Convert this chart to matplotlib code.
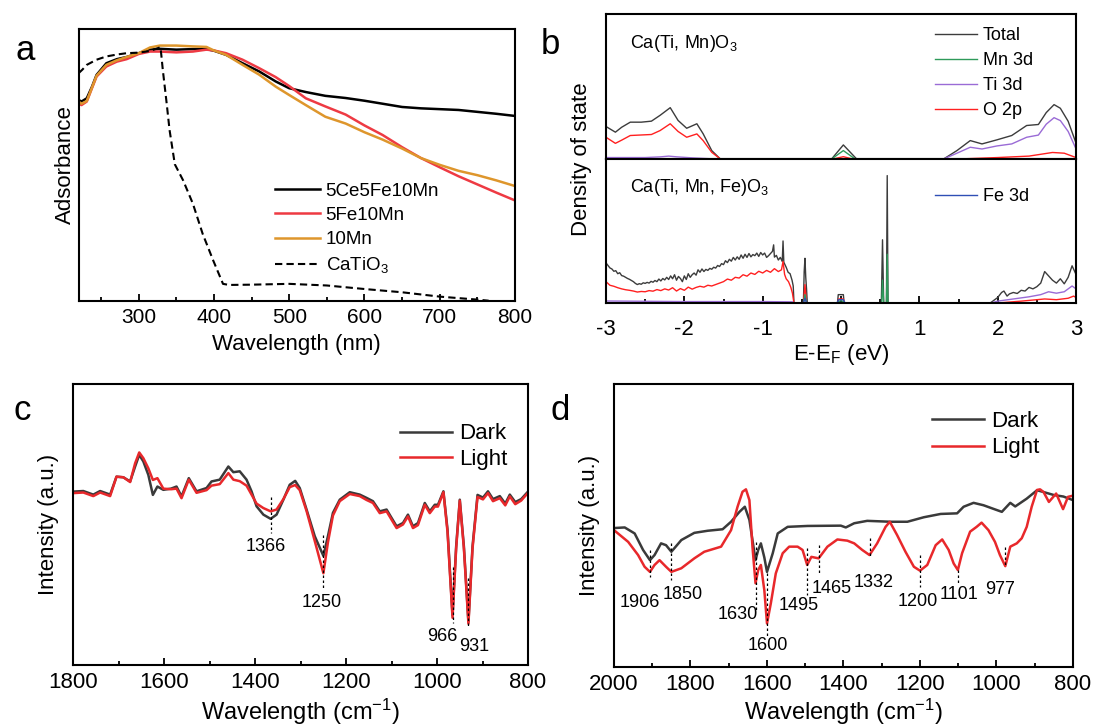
import matplotlib
matplotlib.use('Agg')
import matplotlib.pyplot as plt
from matplotlib.ticker import MultipleLocator

plt.rcParams['font.family'] = ['Liberation Sans', 'DejaVu Sans']
plt.rcParams['mathtext.fontset'] = 'custom'
plt.rcParams['mathtext.rm'] = 'Liberation Sans'
plt.rcParams['mathtext.it'] = 'Liberation Sans:italic'
plt.rcParams['mathtext.default'] = 'regular'
plt.rcParams['axes.unicode_minus'] = False

# ---------------- Panel a data (UV-vis absorbance, a.u.) ----------------
wl_a = [220, 224, 231, 238, 244, 257, 271, 284, 300, 315, 328, 350, 372, 390, 400,
        416, 438, 460, 482, 500, 522, 548, 575, 600, 624, 650, 675, 700, 725, 750, 775, 800]
abs_5ce5fe10mn = [0.739, 0.733, 0.745, 0.788, 0.831, 0.874, 0.889, 0.897, 0.911, 0.924, 0.927,
                  0.924, 0.926, 0.926, 0.920, 0.905, 0.874, 0.844, 0.807, 0.782, 0.768, 0.754,
                  0.746, 0.736, 0.725, 0.713, 0.708, 0.705, 0.702, 0.695, 0.688, 0.680]
abs_5fe10mn = [0.727, 0.720, 0.733, 0.783, 0.825, 0.862, 0.880, 0.889, 0.908, 0.917, 0.917,
               0.914, 0.917, 0.924, 0.921, 0.911, 0.887, 0.856, 0.823, 0.790, 0.745, 0.715,
               0.685, 0.645, 0.610, 0.565, 0.525, 0.491, 0.458, 0.428, 0.398, 0.369]
abs_10mn = [0.733, 0.725, 0.735, 0.785, 0.828, 0.868, 0.885, 0.897, 0.911, 0.932, 0.939,
            0.939, 0.936, 0.934, 0.921, 0.905, 0.868, 0.832, 0.788, 0.757, 0.720, 0.677,
            0.652, 0.620, 0.593, 0.560, 0.525, 0.500, 0.478, 0.462, 0.443, 0.422]
wl_cto = [220, 225, 231, 244, 257, 271, 284, 300, 315, 325, 329, 332, 337, 341, 348, 359,
          372, 385, 399, 412, 420, 450, 500, 550, 600, 650, 700, 750, 765]
abs_catio3 = [0.837, 0.850, 0.868, 0.887, 0.899, 0.906, 0.911, 0.913, 0.919, 0.929, 0.933,
              0.850, 0.730, 0.628, 0.502, 0.443, 0.357, 0.246, 0.148, 0.062, 0.058, 0.059,
              0.062, 0.056, 0.043, 0.031, 0.015, 0.004, 0.0]
labels_a = ['5Ce5Fe10Mn', '5Fe10Mn', '10Mn', 'CaTiO$_3$']

# ---------------- Panel b data (DOS, a.u.) ----------------
E_up_tot = [-3.0, -2.88, -2.8, -2.69, -2.55, -2.42, -2.31, -2.18, -2.08, -1.97, -1.84, -1.76,
            -1.65, -1.54, -0.12, 0.03, 0.20, 1.31, 1.48, 1.65, 1.80, 1.99, 2.18, 2.37, 2.52,
            2.62, 2.72, 2.80, 2.90, 3.0]
dos_up_tot = [0.224, 0.185, 0.219, 0.254, 0.254, 0.261, 0.301, 0.354, 0.266, 0.212, 0.243,
              0.174, 0.058, 0.0, 0.0, 0.097, 0.0, 0.0, 0.058, 0.127, 0.104, 0.132, 0.162,
              0.231, 0.238, 0.32, 0.375, 0.35, 0.26, 0.11]
E_up_mn = [-3.0, -0.12, 0.03, 0.18, 3.0]
dos_up_mn = [0.0, 0.0, 0.058, 0.0, 0.0]
E_up_ti = [-3.0, -2.5, -2.3, -2.2, -2.1, -1.9, -1.6, 1.31, 1.48, 1.65, 1.80, 1.99, 2.18,
           2.37, 2.52, 2.62, 2.72, 2.80, 2.90, 3.0]
dos_up_ti = [0.01, 0.01, 0.015, 0.02, 0.015, 0.008, 0.0, 0.0, 0.04, 0.081, 0.069, 0.09,
             0.104, 0.15, 0.165, 0.24, 0.285, 0.265, 0.19, 0.07]
E_up_o = [-3.0, -2.88, -2.8, -2.69, -2.42, -2.31, -2.18, -2.08, -1.97, -1.84, -1.76, -1.65,
          -1.54, -0.1, 0.03, 0.15, 1.5, 2.0, 2.4, 2.7, 2.85, 3.0]
dos_up_o = [0.150, 0.108, 0.13, 0.162, 0.169, 0.196, 0.243, 0.19, 0.150, 0.173, 0.127, 0.046,
            0.0, 0.0, 0.016, 0.0, 0.0, 0.01, 0.02, 0.045, 0.04, 0.01]

E_lo_tot = [-3.000, -2.975, -2.950, -2.925, -2.900, -2.875, -2.850, -2.825, -2.800, -2.775,
            -2.750, -2.725, -2.700, -2.675, -2.650, -2.625, -2.600, -2.575, -2.550, -2.525,
            -2.500, -2.475, -2.450, -2.425, -2.400, -2.375, -2.350, -2.325, -2.300, -2.275,
            -2.250, -2.225, -2.200, -2.175, -2.150, -2.125, -2.100, -2.075, -2.050, -2.025,
            -2.000, -1.975, -1.950, -1.925, -1.900, -1.875, -1.850, -1.825, -1.800, -1.775,
            -1.750, -1.725, -1.700, -1.675, -1.650, -1.625, -1.600, -1.575, -1.550, -1.525,
            -1.500, -1.475, -1.450, -1.425, -1.400, -1.375, -1.350, -1.325, -1.300, -1.275,
            -1.250, -1.225, -1.200, -1.175, -1.150, -1.125, -1.100, -1.075, -1.050, -1.025,
            -1.000, -0.975, -0.950, -0.925, -0.900, -0.875, -0.860, -0.850, -0.825, -0.800,
            -0.775, -0.750, -0.740, -0.730, -0.700, -0.675, -0.650, -0.625, -0.610, -0.600,
            -0.480, -0.470, -0.460, -0.450, -0.440, -0.430,
            -0.045, -0.035, 0.030, 0.040,
            0.515, 0.530, 0.545, 0.580, 0.590, 0.600,
            1.900, 1.950, 2.000, 2.050, 2.080, 2.120, 2.150, 2.200, 2.250, 2.300, 2.350, 2.400,
            2.450, 2.500, 2.550, 2.600, 2.650, 2.700, 2.750, 2.800, 2.850, 2.900, 2.950, 3.000]
dos_lo_tot = [0.280, 0.262, 0.245, 0.238, 0.222, 0.226, 0.205, 0.212, 0.192, 0.188,
              0.180, 0.172, 0.166, 0.158, 0.150, 0.138, 0.130, 0.136, 0.132, 0.142,
              0.138, 0.145, 0.140, 0.152, 0.146, 0.158, 0.150, 0.168, 0.155, 0.172,
              0.162, 0.180, 0.165, 0.190, 0.170, 0.198, 0.160, 0.186, 0.172, 0.150,
              0.190, 0.165, 0.205, 0.180, 0.198, 0.210, 0.195, 0.232, 0.215, 0.238,
              0.220, 0.235, 0.228, 0.242, 0.236, 0.250, 0.244, 0.262, 0.255, 0.275,
              0.268, 0.295, 0.282, 0.305, 0.292, 0.318, 0.300, 0.322, 0.305, 0.335,
              0.312, 0.340, 0.318, 0.345, 0.322, 0.338, 0.330, 0.348, 0.325, 0.352,
              0.335, 0.348, 0.318, 0.330, 0.345, 0.360, 0.405, 0.320, 0.332, 0.300,
              0.318, 0.290, 0.432, 0.285, 0.250, 0.215, 0.205, 0.160, 0.120, 0.000,
              0.0, 0.22, 0.312, 0.18, 0.10, 0.0,
              0.0, 0.06, 0.06, 0.0,
              0.0, 0.44, 0.0, 0.0, 0.885, 0.0,
              0.0, 0.02, 0.04, 0.075, 0.085, 0.05, 0.065, 0.075, 0.068, 0.09, 0.085, 0.11,
              0.10, 0.115, 0.14, 0.22, 0.19, 0.16, 0.14, 0.17, 0.135, 0.18, 0.26, 0.20]
E_lo_o = [-3.00, -2.95, -2.90, -2.85, -2.80, -2.75, -2.70, -2.65, -2.60, -2.55, -2.50, -2.45,
          -2.40, -2.35, -2.30, -2.25, -2.20, -2.15, -2.10, -2.05, -2.00, -1.95, -1.90, -1.85,
          -1.80, -1.75, -1.70, -1.65, -1.60, -1.55, -1.50, -1.45, -1.40, -1.35, -1.30, -1.25,
          -1.20, -1.15, -1.10, -1.05, -1.00, -0.95, -0.90, -0.85, -0.80,
          -0.76, -0.74, -0.72, -0.70, -0.67, -0.64, -0.62, -0.60,
          -0.48, -0.46, -0.44, -0.04, -0.03, 0.03, 0.04,
          1.95, 2.3, 2.6, 2.75, 2.9, 2.97, 3.0]
dos_lo_o = [0.150, 0.125, 0.118, 0.108, 0.100, 0.094, 0.090, 0.085, 0.078, 0.082, 0.080, 0.088,
            0.084, 0.095, 0.088, 0.100, 0.092, 0.108, 0.085, 0.102, 0.090, 0.112, 0.098, 0.110,
            0.118, 0.112, 0.125, 0.120, 0.130, 0.140, 0.150, 0.168, 0.160, 0.180, 0.175, 0.198,
            0.188, 0.210, 0.200, 0.222, 0.210, 0.228, 0.215, 0.240, 0.220,
            0.232, 0.290, 0.200, 0.170, 0.150, 0.110, 0.070, 0.0,
            0.0, 0.13, 0.0, 0.0, 0.03, 0.03, 0.0,
            0.0, 0.015, 0.03, 0.025, 0.035, 0.05, 0.04]
E_lo_ti = [-3.0, -2.0, -1.0, -0.62, -0.60, 1.9, 2.0, 2.2, 2.4, 2.55, 2.65, 2.75, 2.85, 2.95, 3.0]
dos_lo_ti = [0.016, 0.012, 0.012, 0.01, 0.0, 0.0, 0.015, 0.03, 0.045, 0.06, 0.08, 0.07, 0.08,
             0.12, 0.10]
E_lo_mn = [-3.0, -0.48, -0.46, -0.44, -0.05, 0.0, 0.05, 0.52, 0.53, 0.545, 0.58, 0.59, 0.60, 3.0]
dos_lo_mn = [0.004, 0.004, 0.06, 0.004, 0.004, 0.02, 0.004, 0.004, 0.16, 0.004, 0.004, 0.34,
             0.004, 0.004]
E_lo_fe = [-3.0, -0.48, -0.46, -0.44, -0.05, -0.03, 0.03, 0.05, 3.0]
dos_lo_fe = [0.004, 0.004, 0.035, 0.004, 0.004, 0.025, 0.025, 0.004, 0.004]

# ---------------- Panel c data (IR, a.u.) ----------------
wn_c = [1800, 1778, 1756, 1741, 1719, 1705, 1690, 1675, 1664, 1655, 1646, 1635, 1625, 1615,
        1602, 1585, 1573, 1562, 1546, 1529, 1507, 1496, 1478, 1459, 1448, 1434, 1419, 1408,
        1397, 1382, 1366, 1353, 1338, 1324, 1312, 1302, 1287, 1269, 1250, 1240, 1229, 1214,
        1192, 1170, 1155, 1141, 1126, 1111, 1089, 1075, 1064, 1053, 1042, 1027, 1016, 1005,
        998, 986, 977, 966, 958, 950, 941, 931, 922, 911, 899, 888, 877, 862, 850, 840, 828,
        815, 800]
dark_c = [0.640, 0.642, 0.630, 0.642, 0.630, 0.690, 0.688, 0.674, 0.724, 0.763, 0.741, 0.696,
          0.629, 0.657, 0.646, 0.650, 0.657, 0.624, 0.685, 0.641, 0.652, 0.674, 0.680, 0.724,
          0.705, 0.708, 0.680, 0.641, 0.591, 0.563, 0.549, 0.563, 0.613, 0.663, 0.676, 0.652,
          0.580, 0.491, 0.425, 0.491, 0.569, 0.613, 0.638, 0.630, 0.619, 0.608, 0.574, 0.580,
          0.524, 0.535, 0.563, 0.524, 0.535, 0.602, 0.574, 0.596, 0.596, 0.641, 0.513, 0.227,
          0.457, 0.613, 0.457, 0.205, 0.457, 0.629, 0.620, 0.641, 0.615, 0.625, 0.600, 0.630,
          0.605, 0.615, 0.640]
light_c = [0.635, 0.637, 0.625, 0.637, 0.625, 0.690, 0.688, 0.672, 0.735, 0.771, 0.752, 0.718,
           0.679, 0.685, 0.650, 0.648, 0.650, 0.618, 0.680, 0.636, 0.645, 0.660, 0.665, 0.702,
           0.680, 0.675, 0.660, 0.630, 0.600, 0.585, 0.574, 0.580, 0.615, 0.655, 0.662, 0.645,
           0.575, 0.475, 0.367, 0.470, 0.560, 0.608, 0.632, 0.625, 0.612, 0.602, 0.568, 0.574,
           0.518, 0.530, 0.557, 0.518, 0.528, 0.596, 0.568, 0.590, 0.590, 0.638, 0.505, 0.218,
           0.450, 0.610, 0.450, 0.198, 0.450, 0.622, 0.614, 0.635, 0.608, 0.618, 0.594, 0.624,
           0.598, 0.610, 0.636]
peaks_c = [1366, 1250, 966, 931]
peak_c_line = [(0.622, 0.502), (0.495, 0.317), (0.389, 0.199), (0.351, 0.184)]
peak_c_label = [(1377, 0.458), (1253, 0.269), (988, 0.155), (918, 0.121)]

# ---------------- Panel d data (IR, a.u.) ----------------
wn_d_dark = [2000, 1972, 1946, 1924, 1906, 1894, 1877, 1864, 1850, 1824, 1790, 1755, 1716,
             1694, 1672, 1658, 1646, 1630, 1623, 1616, 1607, 1600, 1585, 1572, 1546, 1494,
             1407, 1394, 1372, 1338, 1277, 1233, 1190, 1146, 1103, 1086, 1060, 1034, 1008,
             986, 964, 951, 921, 894, 877, 850, 825, 800]
dark_d = [0.520, 0.522, 0.502, 0.447, 0.413, 0.430, 0.469, 0.463, 0.441, 0.480, 0.504, 0.511,
          0.516, 0.541, 0.574, 0.591, 0.547, 0.413, 0.447, 0.469, 0.422, 0.374, 0.436, 0.502,
          0.524, 0.527, 0.528, 0.522, 0.536, 0.544, 0.541, 0.541, 0.556, 0.567, 0.569, 0.591,
          0.604, 0.596, 0.584, 0.574, 0.604, 0.592, 0.618, 0.646, 0.640, 0.630, 0.625, 0.613]
wn_d_light = [2000, 1963, 1937, 1920, 1906, 1894, 1881, 1864, 1850, 1824, 1790, 1764, 1720,
              1694, 1677, 1664, 1655, 1646, 1638, 1630, 1623, 1616, 1607, 1600, 1590, 1577,
              1559, 1542, 1520, 1507, 1495, 1484, 1465, 1442, 1416, 1390, 1372, 1351, 1332,
              1312, 1290, 1279, 1260, 1238, 1216, 1200, 1181, 1159, 1142, 1125, 1112, 1101,
              1090, 1069, 1052, 1039, 1021, 1004, 991, 977, 973, 964, 947, 934, 921, 908, 894,
              886, 877, 863, 844, 826, 813, 800]
light_d = [0.513, 0.474, 0.430, 0.391, 0.374, 0.397, 0.413, 0.391, 0.374, 0.386, 0.419, 0.441,
           0.458, 0.513, 0.591, 0.641, 0.649, 0.613, 0.458, 0.336, 0.380, 0.397, 0.313, 0.202,
           0.269, 0.369, 0.436, 0.458, 0.458, 0.447, 0.397, 0.424, 0.419, 0.458, 0.482, 0.478,
           0.469, 0.447, 0.430, 0.469, 0.524, 0.541, 0.497, 0.441, 0.391, 0.378, 0.397, 0.463,
           0.482, 0.447, 0.402, 0.380, 0.436, 0.508, 0.524, 0.538, 0.513, 0.474, 0.430, 0.393,
           0.413, 0.458, 0.469, 0.486, 0.524, 0.591, 0.647, 0.649, 0.640, 0.607, 0.635, 0.583,
           0.624, 0.628]
peaks_d = [1906, 1850, 1630, 1600, 1495, 1465, 1332, 1200, 1101, 977]
peak_d_line = [(0.447, 0.358), (0.470, 0.347), (0.474, 0.241), (0.370, 0.160), (0.453, 0.297),
               (0.463, 0.363), (0.486, 0.419), (0.430, 0.324), (0.380, 0.336), (0.458, 0.391)]
peak_d_label = [(1932, 0.273), (1820, 0.297), (1676, 0.233), (1599, 0.130), (1518, 0.263),
                (1431, 0.319), (1320, 0.338), (1207, 0.274), (1099, 0.297), (991, 0.316)]

# ---------------- Figure ----------------
W, H = 1093, 727
fig = plt.figure(figsize=(W / 100, H / 100), dpi=100)


def px_axes(l, t, r, b):
    return fig.add_axes([l / W, 1 - b / H, (r - l) / W, (b - t) / H])


def style(ax, major, minor, fs, pad=5):
    for sp in ax.spines.values():
        sp.set_linewidth(1.5)
    ax.xaxis.set_major_locator(MultipleLocator(major))
    ax.xaxis.set_minor_locator(MultipleLocator(minor))
    ax.tick_params(axis='x', which='both', direction='in', top=False, bottom=True,
                   labelsize=fs, pad=pad, width=1.3)
    ax.tick_params(axis='x', which='major', length=5)
    ax.tick_params(axis='x', which='minor', length=3)
    ax.tick_params(axis='y', which='both', left=False, right=False, labelleft=False)


# Panel a
axa = px_axes(78.5, 29, 515, 300.7)
axa.plot(wl_a, abs_5ce5fe10mn, color='#000000', lw=1.8, label=labels_a[0])
axa.plot(wl_a, abs_5fe10mn, color='#ee3a43', lw=1.8, label=labels_a[1])
axa.plot(wl_a, abs_10mn, color='#de962c', lw=1.8, label=labels_a[2])
axa.plot(wl_cto, abs_catio3, color='#000000', lw=1.5, ls=(0, (3.5, 2)), label=labels_a[3])
axa.set_xlim(220, 800)
axa.set_ylim(0, 1)
style(axa, 100, 50, 15)
axa.set_xlabel('Wavelength (nm)', fontsize=16, labelpad=5)
axa.set_ylabel('Adsorbance', fontsize=16, labelpad=2)
axa.legend(loc='upper left', bbox_to_anchor=(0.45, 0.435), frameon=False, fontsize=13.5,
           handlelength=2.4, handletextpad=0.3, labelspacing=0.38, borderpad=0,
           borderaxespad=0)

# Panel b
axb1 = px_axes(606, 14, 1076, 159)
axb2 = px_axes(606, 159, 1076, 303.3)
c_tot, c_mn, c_ti, c_o, c_fe = '#3c3c3c', '#2e9a5a', '#9a6bd6', '#ff2020', '#2f4fb5'
axb1.plot(E_up_tot, dos_up_tot, color=c_tot, lw=1.0, label='Total')
axb1.plot(E_up_mn, dos_up_mn, color=c_mn, lw=1.0, label='Mn 3d')
axb1.plot(E_up_ti, dos_up_ti, color=c_ti, lw=1.0, label='Ti 3d')
axb1.plot(E_up_o, dos_up_o, color=c_o, lw=1.0, label='O 2p')
axb2.plot(E_lo_tot, dos_lo_tot, color=c_tot, lw=1.0)
axb2.plot(E_lo_o, dos_lo_o, color=c_o, lw=1.0)
axb2.plot(E_lo_ti, dos_lo_ti, color=c_ti, lw=1.0)
axb2.plot(E_lo_mn, dos_lo_mn, color=c_mn, lw=1.0)
axb2.plot(E_lo_fe, dos_lo_fe, color=c_fe, lw=1.0, label='Fe 3d')
for ax in (axb1, axb2):
    ax.set_xlim(-3, 3)
    ax.set_ylim(0, 1)
    style(ax, 1, 0.5, 16, pad=11)
axb1.tick_params(axis='x', which='both', bottom=False, labelbottom=False)
axb2.set_xlabel('E-E$_F$ (eV)', fontsize=16, labelpad=2)
axb1.legend(loc='upper left', bbox_to_anchor=(0.70, 0.91), frameon=False, fontsize=13,
            handlelength=2.35, handletextpad=0.3, labelspacing=0.45, borderpad=0,
            borderaxespad=0)
axb2.legend(loc='upper left', bbox_to_anchor=(0.70, 0.80), frameon=False, fontsize=13,
            handlelength=2.35, handletextpad=0.3, borderpad=0, borderaxespad=0)
axb1.text(0.051, 0.80, 'Ca(Ti, Mn)O$_3$', transform=axb1.transAxes, fontsize=13, va='center')
axb2.text(0.051, 0.80, 'Ca(Ti, Mn, Fe)O$_3$', transform=axb2.transAxes, fontsize=13,
          va='center')
fig.text(581 / W, 1 - 159 / H, 'Density of state', rotation=90, fontsize=16,
         ha='center', va='center')

# Panel c
axc = px_axes(73.3, 384, 528, 665)
axc.plot(wn_c, dark_c, color='#3a3a3a', lw=1.8, label='Dark')
axc.plot(wn_c, light_c, color='#e8282b', lw=1.8, label='Light')
axc.set_xlim(1800, 800)
axc.set_ylim(0.060, 1.0)
style(axc, 200, 100, 16)
axc.set_xlabel('Wavelength (cm$^{-1}$)', fontsize=17, labelpad=3)
axc.set_ylabel('Intensity (a.u.)', fontsize=16, labelpad=10)
for p, (y0, y1), (lx, ly) in zip(peaks_c, peak_c_line, peak_c_label):
    axc.plot([p, p], [y0, y1], color='black', lw=0.9, ls=(0, (2, 2)))
    axc.text(lx, ly, str(p), fontsize=13, ha='center', va='center')
axc.legend(loc='upper left', bbox_to_anchor=(0.718, 0.86), frameon=False, fontsize=16,
           handlelength=2.35, handletextpad=0.3, labelspacing=0.2, borderpad=0,
           borderaxespad=0)

# Panel d
axd = px_axes(614, 384, 1073, 667)
axd.plot(wn_d_dark, dark_d, color='#3a3a3a', lw=1.8, label='Dark')
axd.plot(wn_d_light, light_d, color='#e8282b', lw=1.8, label='Light')
axd.set_xlim(2000, 800)
axd.set_ylim(0.057, 1.0)
style(axd, 200, 100, 16)
axd.set_xlabel('Wavelength (cm$^{-1}$)', fontsize=17, labelpad=1)
axd.set_ylabel('Intensity (a.u.)', fontsize=16, labelpad=10)
for p, (y0, y1), (lx, ly) in zip(peaks_d, peak_d_line, peak_d_label):
    axd.plot([p, p], [y0, y1], color='black', lw=0.9, ls=(0, (2, 2)))
    axd.text(lx, ly, str(p), fontsize=13, ha='center', va='center')
axd.legend(loc='upper left', bbox_to_anchor=(0.693, 0.905), frameon=False, fontsize=16,
           handlelength=2.35, handletextpad=0.3, labelspacing=0.25, borderpad=0,
           borderaxespad=0)

# Panel letters
for letter, (x, y) in zip(['a', 'b', 'c', 'd'], [(25, 50), (550, 45), (22, 410), (560, 410)]):
    fig.text(x / W, 1 - y / H, letter, fontsize=25, ha='center', va='center')

fig.savefig('out.png', dpi=100)
